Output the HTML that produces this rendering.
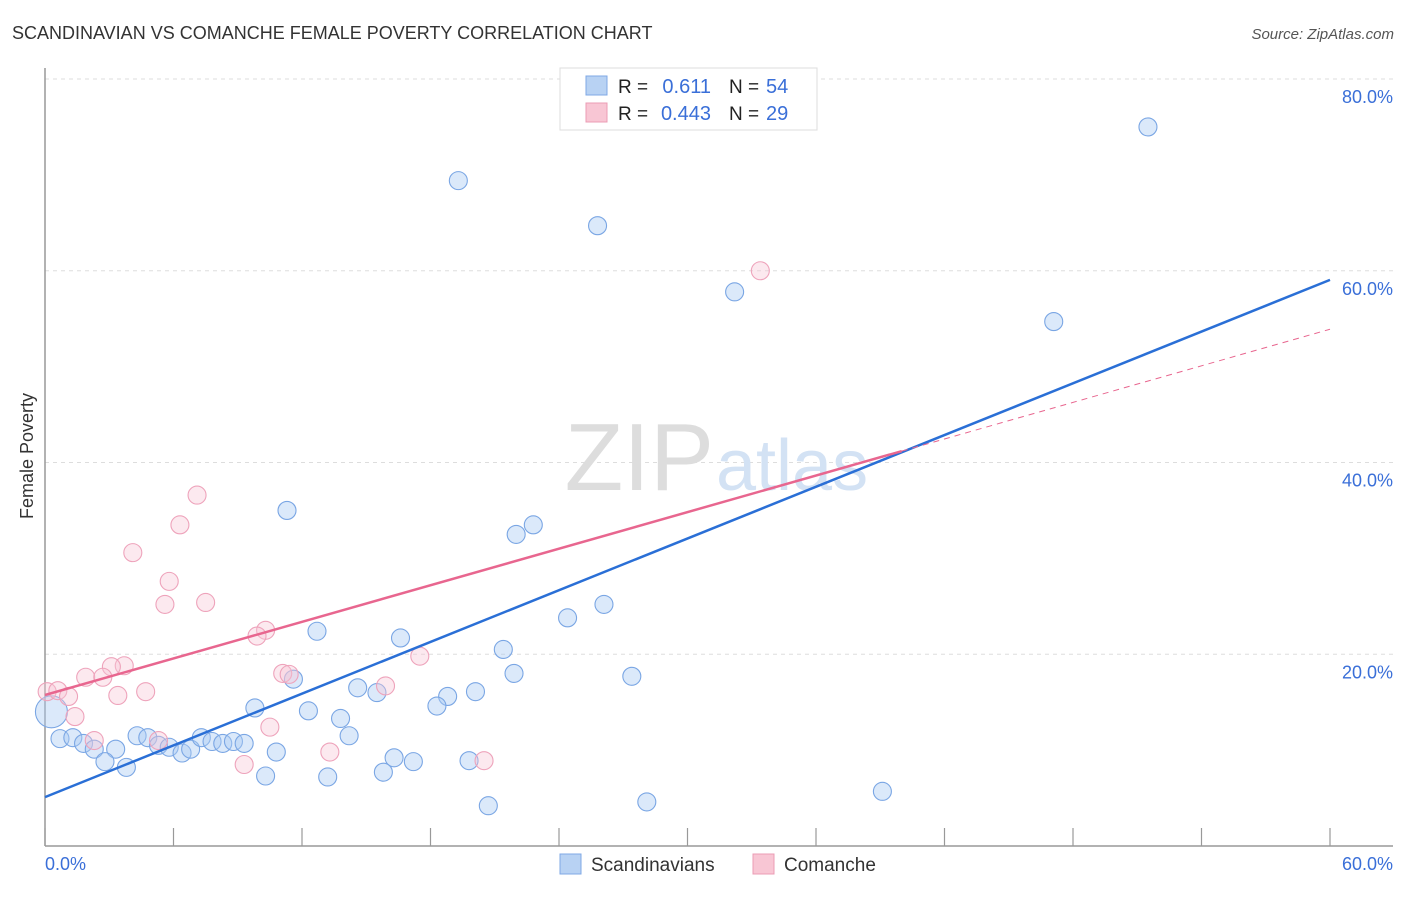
<!DOCTYPE html>
<html><head><meta charset="utf-8"><style>
body{margin:0;background:#fff;font-family:"Liberation Sans",sans-serif;}
svg text{font-family:"Liberation Sans",sans-serif;}
</style></head><body>
<svg id="chart" width="1406" height="892" xmlns="http://www.w3.org/2000/svg">
<text x="12" y="39" font-size="18" fill="#333">SCANDINAVIAN VS COMANCHE FEMALE POVERTY CORRELATION CHART</text>
<text x="1394" y="39" font-size="15" fill="#555" font-style="italic" text-anchor="end">Source: ZipAtlas.com</text>
<g id="grid"></g>
<text x="714" y="490" font-size="96" fill="#ddd" text-anchor="end" font-family="Liberation Serif">ZIP</text>
<text x="716" y="490" font-size="72" fill="#d3e2f4">atlas</text>
<line x1="45" y1="68" x2="45" y2="846" stroke="#999" stroke-width="1.5"/>
<line x1="45" y1="846" x2="1393" y2="846" stroke="#999" stroke-width="1.5"/>
<g id="ticks"></g>
<text x="33" y="456" font-size="18" fill="#333" text-anchor="middle" transform="rotate(-90 33 456)">Female Poverty</text>
<text x="45" y="870" font-size="18" fill="#3a6fd8">0.0%</text>
<text x="1393" y="870" font-size="18" fill="#3a6fd8" text-anchor="end">60.0%</text>
<g id="points"></g>
<g id="lines"></g>
<g>
<rect x="560" y="68" width="257" height="62" fill="#fff" stroke="#ddd"/>
<rect x="586" y="76" width="21" height="19" fill="#b8d2f3" stroke="#7fa8e6"/>
<rect x="586" y="103" width="21" height="19" fill="#f8c6d4" stroke="#eb9cb4"/>
<text x="618" y="93" font-size="19" fill="#222">R = </text><text x="711" y="93" font-size="20" fill="#3a6fd8" text-anchor="end">0.611</text>
<text x="729" y="93" font-size="19" fill="#222">N = </text><text x="766" y="93" font-size="20" fill="#3a6fd8">54</text>
<text x="618" y="120" font-size="19" fill="#222">R = </text><text x="711" y="120" font-size="20" fill="#3a6fd8" text-anchor="end">0.443</text>
<text x="729" y="120" font-size="19" fill="#222">N = </text><text x="766" y="120" font-size="20" fill="#3a6fd8">29</text>
</g>
<g>
<rect x="560" y="854" width="21" height="20" fill="#b8d2f3" stroke="#7fa8e6"/>
<text x="591" y="871" font-size="19" fill="#333">Scandinavians</text>
<rect x="753" y="854" width="21" height="20" fill="#f8c6d4" stroke="#eb9cb4"/>
<text x="784" y="871" font-size="19" fill="#333">Comanche</text>
</g>
</svg>
<script>
const yTicks=[20,40,60,80];
const yTickLabels=["20.0%","40.0%","60.0%","80.0%"];
const xTicks=[0,6,12,18,24,30,36,42,48,54,60];
const blueX=[51.5,19.3,25.8,32.2,47.1,11.3,22.8,22.0,26.1,24.4,12.7,16.6,21.4,21.9,27.4,11.6,14.6,15.5,20.1,18.8,18.3,12.3,9.8,13.8,14.2,4.3,4.8,0.7,1.3,1.8,2.3,3.3,5.3,5.8,6.4,6.8,7.3,7.8,8.3,8.8,9.3,10.8,16.3,17.2,19.8,2.8,3.8,10.3,13.2,15.8,20.7,28.1,39.1,0.3];
const blueY=[75.0,69.4,64.7,57.8,54.7,35.0,33.5,32.5,25.2,23.8,22.4,21.7,20.5,18.0,17.7,17.4,16.5,16.0,16.1,15.6,14.6,14.1,14.4,13.3,11.5,11.5,11.3,11.2,11.3,10.7,10.1,10.1,10.5,10.3,9.7,10.1,11.3,10.9,10.7,10.9,10.7,9.8,9.2,8.8,8.9,8.8,8.2,7.3,7.2,7.7,4.2,4.6,5.7,14.0];
const blueR=[9,9,9,9,9,9,9,9,9,9,9,9,9,9,9,9,9,9,9,9,9,9,9,9,9,9,9,9,9,9,9,9,9,9,9,9,9,9,9,9,9,9,9,9,9,9,9,9,9,9,9,9,9,16];
const pinkX=[33.4,7.1,6.3,4.1,5.8,5.6,7.5,10.3,9.9,17.5,3.7,3.1,1.9,2.7,11.1,11.4,0.1,0.6,1.1,4.7,3.4,15.9,1.4,10.5,13.3,9.3,20.5,2.3,5.3];
const pinkY=[60.0,36.6,33.5,30.6,27.6,25.2,25.4,22.5,21.9,19.8,18.8,18.7,17.6,17.6,18.0,17.9,16.1,16.2,15.6,16.1,15.7,16.7,13.5,12.4,9.8,8.5,8.9,11.0,11.0];
const blueLine=[5.1,59.05];
const pinkLine=[15.75,53.9];
const pinkSolidEnd=40;
const X0=45,X1=1330,Y0=846,Y80=79;
const sx=v=>X0+(X1-X0)*v/60;
const sy=v=>Y0-(Y0-Y80)*v/80;
const NS="http://www.w3.org/2000/svg";
function mk(t,a,p){const e=document.createElementNS(NS,t);for(const k in a)e.setAttribute(k,a[k]);document.getElementById(p).appendChild(e);return e;}
yTicks.forEach((t,i)=>{
 const l=mk('line',{x1:45,x2:1393,y1:sy(t),y2:sy(t),stroke:'#ddd','stroke-dasharray':'4,4'},'grid');
 
 
 const tx=mk('text',{x:1393,y:sy(t)+24,'font-size':18,fill:'#3a6fd8','text-anchor':'end'},'grid');
 tx.textContent=yTickLabels[i];
 
 
});
xTicks.forEach(t=>{
 const l=mk('line',{x1:sx(t),x2:sx(t),y1:828,y2:846,stroke:'#999','stroke-width':1.2},'ticks');
 
 
});
blueX.forEach((v,i)=>{
 const c=mk('circle',{cx:sx(v),cy:sy(blueY[i]),r:blueR[i],fill:'rgba(170,202,242,0.42)',stroke:'#7aa6e4','stroke-width':1.1},'points');
 
 
});
pinkX.forEach((v,i)=>{
 const c=mk('circle',{cx:sx(v),cy:sy(pinkY[i]),r:9,fill:'rgba(248,196,212,0.38)',stroke:'#eea3bb','stroke-width':1.1},'points');
 
 
});
const bl=mk('line',{x1:sx(0),y1:sy(blueLine[0]),x2:sx(60),y2:sy(blueLine[1]),stroke:'#2a6fd6','stroke-width':2.5},'lines');


const pAt=x=>pinkLine[0]+(pinkLine[1]-pinkLine[0])*x/60;
const pl=mk('line',{x1:sx(0),y1:sy(pAt(0)),x2:sx(pinkSolidEnd),y2:sy(pAt(pinkSolidEnd)),stroke:'#e8668f','stroke-width':2.5},'lines');


const pd=mk('line',{x1:sx(pinkSolidEnd),y1:sy(pAt(pinkSolidEnd)),x2:sx(60),y2:sy(pAt(60)),stroke:'#e8668f','stroke-width':1,'stroke-dasharray':'6,5'},'lines');


</script>
</body></html>
